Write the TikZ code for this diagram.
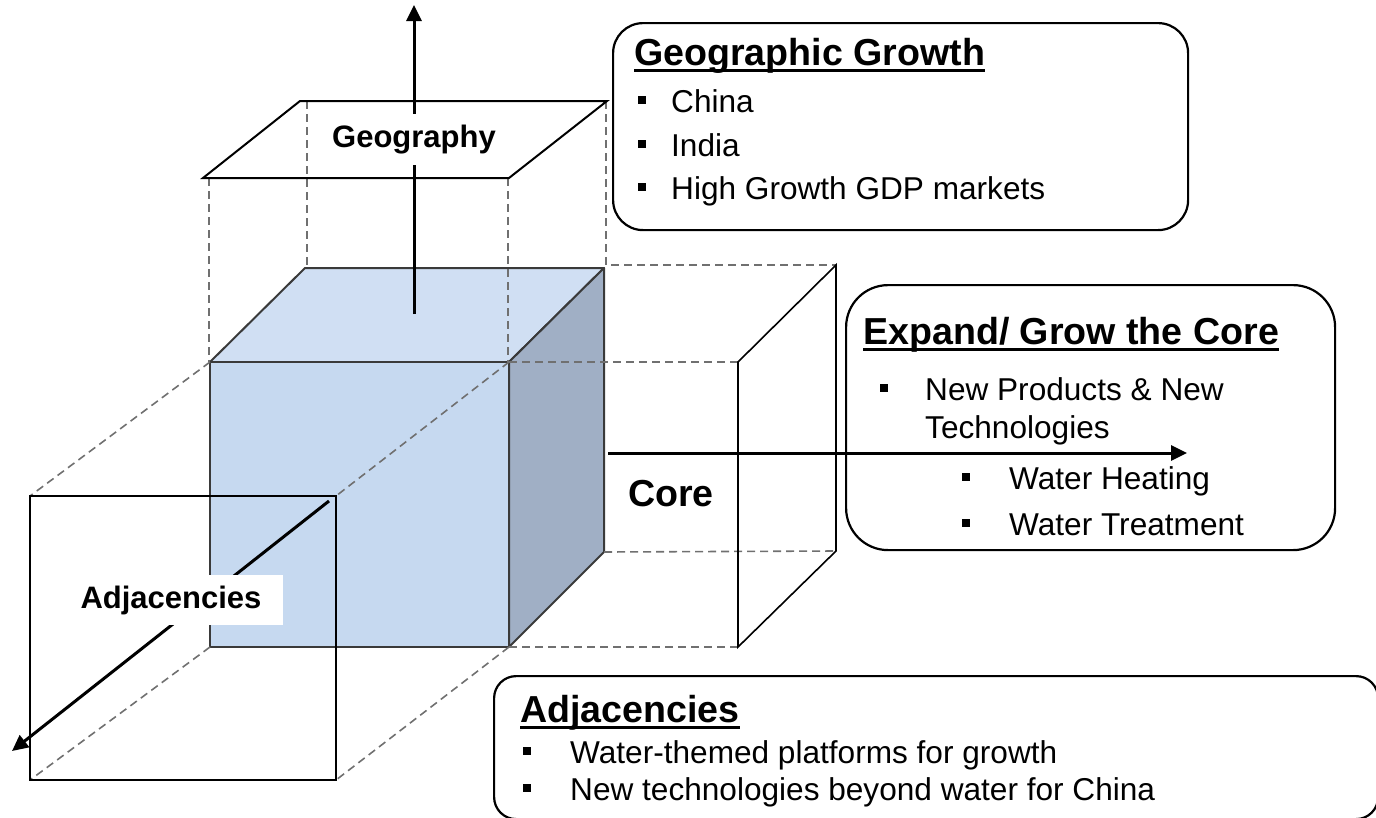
\documentclass[tikz,border=0pt]{standalone}
\usepackage{fontspec}
\setmainfont{Liberation Sans}
\usetikzlibrary{arrows.meta}
\definecolor{topc}{HTML}{D0DFF3}
\definecolor{frontc}{HTML}{C6D9F0}
\definecolor{sidec}{HTML}{A0AFC5}
\definecolor{edgec}{HTML}{3A3A3A}
\definecolor{dashc}{HTML}{707070}
\newcommand\bitem[5]{\fill (#2-4,#4-16) rectangle +(8,8); \node[item] (#1) at (#3,#4) {#5};}
\begin{document}
\begin{tikzpicture}[x=1pt,y=-1pt,
  face/.style={draw=edgec,line width=2pt,line join=round},
  guide/.style={draw=dashc,line width=1.6pt,dash pattern=on 8pt off 5pt},
  plane/.style={draw=black,line width=2pt,line join=miter},
  axis/.style={draw=black,line width=3pt,-{Triangle[length=16pt,width=15pt]}},
  infobox/.style={draw=black,line width=2.2pt,fill=white,anchor=north west,inner sep=0pt},
  title/.style={anchor=base west,inner sep=0pt,font=\fontsize{37.6}{44}\selectfont\bfseries},
  item/.style={anchor=base west,inner sep=0pt,font=\fontsize{31.6}{37}\selectfont},
  axlabel/.style={fill=white,anchor=base,font=\fontsize{31}{36}\selectfont\bfseries},
  uline/.style={line width=3pt}
]
\useasboundingbox (0,0) rectangle (1376,817);
% cube corners
\coordinate (A) at (210,362);
\coordinate (B) at (509,362);
\coordinate (C) at (509,647);
\coordinate (D) at (210,647);
\coordinate (E) at (305,268);
\coordinate (F) at (604,268);
\coordinate (G) at (604,552);
% cube faces
\filldraw[face,fill=topc] (A) -- (E) -- (F) -- (B) -- cycle;
\filldraw[face,fill=frontc] (A) -- (B) -- (C) -- (D) -- cycle;
\filldraw[face,fill=sidec] (B) -- (F) -- (G) -- (C) -- cycle;
% geography plane
\coordinate (g1) at (203,178);
\coordinate (g2) at (509,178);
\coordinate (g3) at (607,101);
\coordinate (g4) at (300,101);
% core plane
\coordinate (c1) at (738,362);
\coordinate (c2) at (836,265);
\coordinate (c3) at (836,551);
\coordinate (c4) at (738,647);
% adjacency square
\coordinate (s1) at (30,496);
\coordinate (s2) at (336,496);
\coordinate (s3) at (336,780);
\coordinate (s4) at (30,780);
% dashed guides
\draw[guide] (209,178) -- (209,362);
\draw[guide] (307,101) -- (307,268);
\draw[guide] (508,178) -- (508,362);
\draw[guide] (606,101) -- (606,265) -- (c2);
\draw[guide] (B) -- (c1);
\draw[guide] (G) -- (c3);
\draw[guide] (C) -- (c4);
\draw[guide] (A) -- (s1);
\draw[guide] (B) -- (s2);
\draw[guide] (D) -- (s4);
\draw[guide] (C) -- (s3);
% planes
\draw[plane] (g1) -- (g2) -- (g3) -- (g4) -- cycle;
\draw[plane,line width=1.6pt] (c1) -- (c2) -- (c3) -- (c4) -- cycle;
\draw[plane] (s1) -- (s2) -- (s3) -- (s4) -- cycle;
% info boxes
\node[infobox,rounded corners=30pt,minimum width=575pt,minimum height=207pt] (geobox) at (612,22) {};
\node[infobox,rounded corners=42pt,minimum width=489pt,minimum height=265pt] (corebox) at (845,284) {};
\node[infobox,rounded corners=22pt,minimum width=884pt,minimum height=143pt] (adjbox) at (493,675) {};
% axes
\coordinate (upS) at (414,314);
\coordinate (upE) at (414,5);
\coordinate (rtS) at (608,453);
\coordinate (rtE) at (1187,453);
\coordinate (dgS) at (329,501);
\coordinate (dgE) at (12,751);
\draw[axis] (upS) -- (upE);
\draw[axis] (rtS) -- (rtE);
\draw[axis] (dgS) -- (dgE);
% axis labels
\node[axlabel,inner xsep=4pt,inner ysep=11pt] (geolab) at (414,147) {Geography};
\node[axlabel,inner xsep=22pt,inner ysep=11pt] (adjlab) at (171,608) {Adjacencies};
\node[title] (corelab) at (628,506) {Core};
% Geographic Growth box
\node[title] (geot) at (634,65) {Geographic Growth};
\draw[uline] ([yshift=-5.5pt]geot.base west) -- ([yshift=-5.5pt]geot.base east);
\bitem{geo1}{642}{671}{112}{China}
\bitem{geo2}{642}{671}{156}{India}
\bitem{geo3}{642}{671}{199}{High Growth GDP markets}
% Expand box
\node[title] (coret) at (863,344) {Expand/ Grow the Core};
\draw[uline] ([yshift=-5.5pt]coret.base west) -- ([yshift=-5.5pt]coret.base east);
\bitem{core1}{884}{925}{400}{New Products \& New}
\node[item] (core1b) at (925,438) {Technologies};
\bitem{core2}{966}{1009}{489}{Water Heating}
\bitem{core3}{966}{1009}{535}{Water Treatment}
% Adjacencies box
\node[title] (adjt) at (520,722) {Adjacencies};
\draw[uline] ([yshift=-5.5pt]adjt.base west) -- ([yshift=-5.5pt]adjt.base east);
\bitem{adj1}{527}{570}{763}{Water-themed platforms for growth}
\bitem{adj2}{527}{570}{800}{New technologies beyond water for China}
\end{tikzpicture}
\end{document}
